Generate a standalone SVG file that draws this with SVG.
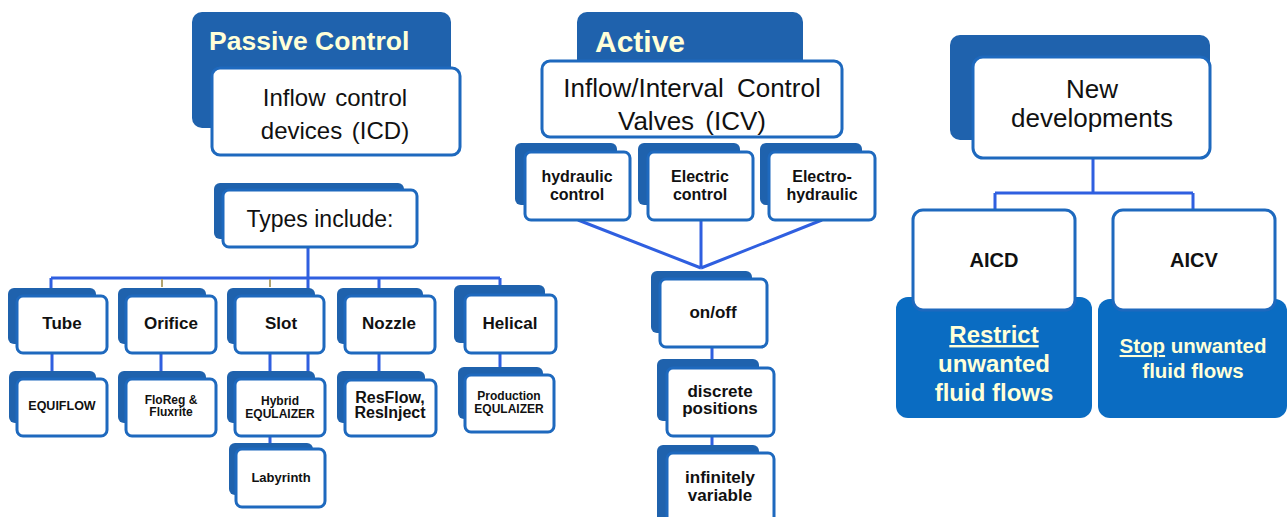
<svg xmlns="http://www.w3.org/2000/svg" width="1287" height="517" viewBox="0 0 1287 517">
<style>
.bk{fill:#1F62AD}
.bk2{fill:#0A6CC2}
.wb{fill:#fff;stroke:#1E69BE;stroke-width:3}
.cn{fill:none;stroke:#2F5FE0;stroke-width:3}
.tn{fill:none;stroke:#B3A46E;stroke-width:2}
text{font-family:"Liberation Sans",Arial,sans-serif;fill:#111;text-anchor:middle}
.b{font-weight:bold}
.cr{fill:#FFFFD8;font-weight:bold}
</style>
<rect width="1287" height="517" fill="#fff"/>
<g id="connectors">
<path class="cn" d="M308 247V380M51 278H500M51 278V297M270 297V380M379 278V297M500 278V297M52 353V379M161 353V379M379 353V380M500 353V375M270 436V449"/>
<path class="tn" d="M162 279V287M270 279V287"/>
<path class="cn" d="M578 220L701 268M701 220V268M822 220L701 268M712 347V368M712 436V455"/>
<path class="cn" d="M1093 158V193M995 193H1193M995 193V210M1193 193V210"/>
</g>
<g id="passive">
<rect class="bk" x="192" y="12" width="259" height="116" rx="10"/>
<text class="cr" x="209" y="50" font-size="26.5" style="text-anchor:start">Passive Control</text>
<rect class="wb" x="212" y="68" width="248" height="87" rx="8"/>
<text x="335" y="106" font-size="24" word-spacing="3">Inflow control</text>
<text x="335" y="139" font-size="24" word-spacing="3">devices (ICD)</text>
</g>
<g id="active">
<rect class="bk" x="577" y="12" width="226" height="80" rx="10"/>
<text class="cr" x="595" y="52" font-size="30" style="text-anchor:start">Active</text>
<rect class="wb" x="542" y="61" width="300" height="76" rx="8"/>
<text x="692" y="97" font-size="26" word-spacing="6">Inflow/Interval Control</text>
<text x="692" y="130" font-size="26" word-spacing="4">Valves (ICV)</text>
</g>
<g id="hydraulic">
<rect class="bk" x="515" y="143" width="102" height="62" rx="6"/>
<rect class="wb" x="525" y="152" width="105" height="68" rx="6"/>
<text class="b" x="577" y="182" font-size="16">hydraulic</text>
<text class="b" x="577" y="200" font-size="16">control</text>
</g>
<g id="electric">
<rect class="bk" x="638" y="143" width="102" height="62" rx="6"/>
<rect class="wb" x="648" y="152" width="105" height="68" rx="6"/>
<text class="b" x="700" y="182" font-size="16">Electric</text>
<text class="b" x="700" y="200" font-size="16">control</text>
</g>
<g id="electrohydraulic">
<rect class="bk" x="760" y="143" width="102" height="62" rx="6"/>
<rect class="wb" x="769" y="152" width="106" height="68" rx="6"/>
<text class="b" x="822" y="182" font-size="16">Electro-</text>
<text class="b" x="822" y="200" font-size="16">hydraulic</text>
</g>
<g id="onoff">
<rect class="bk" x="651" y="271" width="101" height="62" rx="6"/>
<rect class="wb" x="660" y="279" width="107" height="68" rx="6"/>
<text class="b" x="713" y="318" font-size="17">on/off</text>
</g>
<g id="discrete">
<rect class="bk" x="657" y="359" width="102" height="62" rx="6"/>
<rect class="wb" x="667" y="368" width="107" height="68" rx="6"/>
<text class="b" x="720" y="397" font-size="17">discrete</text>
<text class="b" x="720" y="414" font-size="17">positions</text>
</g>
<g id="infinitely">
<rect class="bk" x="657" y="445" width="102" height="80" rx="6"/>
<rect class="wb" x="667" y="453" width="107" height="80" rx="6"/>
<text class="b" x="720" y="483" font-size="17">infinitely</text>
<text class="b" x="720" y="501" font-size="17">variable</text>
</g>
<g id="newdev">
<rect class="bk" x="950" y="35" width="260" height="105" rx="10"/>
<rect class="wb" x="973" y="57" width="237" height="101" rx="10"/>
<text x="1092" y="98" font-size="26">New</text>
<text x="1092" y="127" font-size="26">developments</text>
</g>
<g id="aicd">
<rect class="bk2" x="896" y="297" width="196" height="121" rx="12"/>
<rect class="wb" x="913" y="210" width="162" height="100" rx="10"/>
<text class="b" x="994" y="267" font-size="20">AICD</text>
<text class="cr" x="994" y="343" font-size="24" text-decoration="underline">Restrict</text>
<text class="cr" x="994" y="372" font-size="24">unwanted</text>
<text class="cr" x="994" y="401" font-size="24">fluid flows</text>
</g>
<g id="aicv">
<rect class="bk2" x="1098" y="299" width="189" height="119" rx="12"/>
<rect class="wb" x="1113" y="210" width="162" height="100" rx="10"/>
<text class="b" x="1194" y="267" font-size="20">AICV</text>
<text class="cr" x="1193" y="353" font-size="20.5"><tspan text-decoration="underline">Stop</tspan> unwanted</text>
<text class="cr" x="1193" y="378" font-size="20.5">fluid flows</text>
</g>
<g id="types">
<rect class="bk" x="214" y="183" width="190" height="56" rx="6"/>
<rect class="wb" x="223" y="190" width="194" height="57" rx="6"/>
<text x="320" y="227" font-size="23">Types include:</text>
</g>
<g id="tube">
<rect class="bk" x="8" y="288" width="88" height="56" rx="6"/>
<rect class="wb" x="17" y="296" width="90" height="57" rx="6"/>
<text class="b" x="62" y="329" font-size="17">Tube</text>
</g>
<g id="orifice">
<rect class="bk" x="118" y="288" width="88" height="56" rx="6"/>
<rect class="wb" x="126" y="296" width="90" height="57" rx="6"/>
<text class="b" x="171" y="329" font-size="17">Orifice</text>
</g>
<g id="slot">
<rect class="bk" x="227" y="288" width="88" height="56" rx="6"/>
<rect class="wb" x="235" y="296" width="89" height="57" rx="6"/>
<text class="b" x="281" y="329" font-size="17">Slot</text>
</g>
<g id="nozzle">
<rect class="bk" x="337" y="288" width="86" height="56" rx="6"/>
<rect class="wb" x="345" y="296" width="90" height="57" rx="6"/>
<text class="b" x="389" y="329" font-size="17">Nozzle</text>
</g>
<g id="helical">
<rect class="bk" x="454" y="285" width="91" height="58" rx="6"/>
<rect class="wb" x="465" y="295" width="91" height="58" rx="6"/>
<text class="b" x="510" y="329" font-size="17">Helical</text>
</g>
<g id="equiflow">
<rect class="bk" x="9" y="371" width="87" height="52" rx="6"/>
<rect class="wb" x="17" y="379" width="90" height="57" rx="6"/>
<text class="b" x="62" y="410" font-size="12.5">EQUIFLOW</text>
</g>
<g id="floreg">
<rect class="bk" x="118" y="371" width="88" height="52" rx="6"/>
<rect class="wb" x="126" y="379" width="90" height="57" rx="6"/>
<text class="b" x="171" y="404" font-size="12">FloReg &amp;</text>
<text class="b" x="171" y="416" font-size="12">Fluxrite</text>
</g>
<g id="hybrid">
<rect class="bk" x="227" y="371" width="88" height="52" rx="6"/>
<rect class="wb" x="235" y="379" width="90" height="57" rx="6"/>
<text class="b" x="280" y="405" font-size="12">Hybrid</text>
<text class="b" x="280" y="418" font-size="12">EQULAIZER</text>
</g>
<g id="labyrinth">
<rect class="bk" x="229" y="443" width="84" height="52" rx="6"/>
<rect class="wb" x="236" y="449" width="89" height="58" rx="6"/>
<text class="b" x="281" y="482" font-size="13">Labyrinth</text>
</g>
<g id="resflow">
<rect class="bk" x="337" y="371" width="88" height="52" rx="6"/>
<rect class="wb" x="345" y="380" width="91" height="56" rx="6"/>
<text class="b" x="390" y="403" font-size="16">ResFlow,</text>
<text class="b" x="390" y="418" font-size="16">ResInject</text>
</g>
<g id="production">
<rect class="bk" x="458" y="367" width="85" height="52" rx="6"/>
<rect class="wb" x="465" y="375" width="89" height="57" rx="6"/>
<text class="b" x="509" y="400" font-size="12">Production</text>
<text class="b" x="509" y="413" font-size="12">EQULAIZER</text>
</g>
</svg>
